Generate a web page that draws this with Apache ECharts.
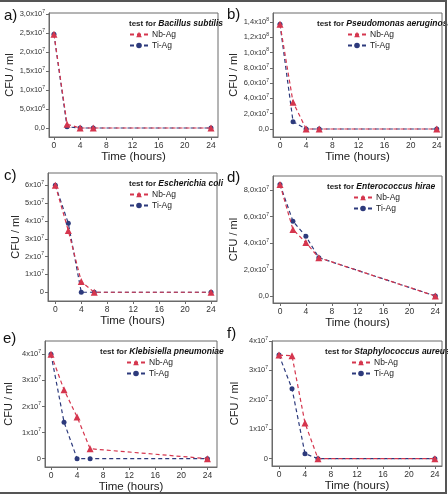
<!DOCTYPE html>
<html>
<head>
<meta charset="utf-8">
<script src="https://cdn.jsdelivr.net/npm/echarts@6/dist/echarts.min.js"></script>
<style>
  html, body { margin: 0; padding: 0; background: #fff; }
  #main { width: 448px; height: 496px; position: relative; }
  #frame {
    position: absolute; left: 0; top: 0; width: 447px; height: 494px;
    box-sizing: border-box; pointer-events: none;
    border-top: 2px solid #555; border-right: 2px solid #555; border-bottom: 2px solid #555;
  }
</style>
</head>
<body>
<div id="main"></div>
<div id="frame"></div>
<script>
// time points (hours)
const hours = [0, 2, 4, 6, 24];
const xTicks = [0, 4, 8, 12, 16, 20, 24];
const seriesNames = ['Nb-Ag', 'Ti-Ag'];

// a) Bacillus subtilis
const nbA = [2.47e7, 1.0e6, 0, 0, 0];
const tiA = [2.47e7, 3e5, 0, 0, 0];
const yTicksA = [0, 5e6, 1e7, 1.5e7, 2e7, 2.5e7, 3e7];
const yLabelsA = ['0,0', '5,0x10^6', '1,0x10^7', '1,5x10^7', '2,0x10^7', '2,5x10^7', '3,0x10^7'];

// b) Pseudomonas aeruginosa
const nbB = [1.37e8, 3.5e7, 0, 0, 0];
const tiB = [1.37e8, 0.95e7, 0, 0, 0];
const yTicksB = [0, 2e7, 4e7, 6e7, 8e7, 1e8, 1.2e8, 1.4e8];
const yLabelsB = ['0,0', '2,0x10^7', '4,0x10^7', '6,0x10^7', '8,0x10^7', '1,0x10^8', '1,2x10^8', '1,4x10^8'];

// c) Escherichia coli
const nbC = [6.0e7, 3.46e7, 0.6e7, 0, 0];
const tiC = [6.0e7, 3.87e7, 0, 0, 0];
const yTicksC = [0, 1e7, 2e7, 3e7, 4e7, 5e7, 6e7];
const yLabelsC = ['0', '1x10^7', '2x10^7', '3x10^7', '4x10^7', '5x10^7', '6x10^7'];

// d) Enterococcus hirae
const nbD = [8.44e7, 5.03e7, 4.04e7, 2.9e7, 0];
const tiD = [8.44e7, 5.66e7, 4.52e7, 2.9e7, 0];
const yTicksD = [0, 2e7, 4e7, 6e7, 8e7];
const yLabelsD = ['0,0', '2,0x10^7', '4,0x10^7', '6,0x10^7', '8,0x10^7'];

// e) Klebisiella pneumoniae
const nbE = [4.0e7, 2.64e7, 1.6e7, 0.38e7, 0];
const tiE = [4.0e7, 1.4e7, 0, 0, 0];
const yTicksE = [0, 1e7, 2e7, 3e7, 4e7];
const yLabelsE = ['0', '1x10^7', '2x10^7', '3x10^7', '4x10^7'];

// f) Staphylococcus aureus
const nbF = [3.52e7, 3.5e7, 1.21e7, 0, 0];
const tiF = [3.52e7, 2.38e7, 0.17e7, 0, 0];
const yTicksF = [0, 1e7, 2e7, 3e7, 4e7];
const yLabelsF = ['0', '1x10^7', '2x10^7', '3x10^7', '4x10^7'];

const RED = '#d5364e';
const BLUE = '#2d3a7c';
const FONT = 'Liberation Sans, Arial, sans-serif';

const panels = [
  { tag: 'a)', species: 'Bacillus subtilis', nb: nbA, ti: tiA, yt: yTicksA, yl: yLabelsA },
  { tag: 'b)', species: 'Pseudomonas aeruginosa', nb: nbB, ti: tiB, yt: yTicksB, yl: yLabelsB },
  { tag: 'c)', species: 'Escherichia coli', nb: nbC, ti: tiC, yt: yTicksC, yl: yLabelsC },
  { tag: 'd)', species: 'Enterococcus hirae', nb: nbD, ti: tiD, yt: yTicksD, yl: yLabelsD },
  { tag: 'e)', species: 'Klebisiella pneumoniae', nb: nbE, ti: tiE, yt: yTicksE, yl: yLabelsE },
  { tag: 'f)', species: 'Staphylococcus aureus', nb: nbF, ti: tiF, yt: yTicksF, yl: yLabelsF }
];

// layout of each panel (pixels / axis extents)
const layout = [
  { l: 49, t: 13, w: 169, h: 124, xr: [-0.76, 25.07], yr: [-0.237e7, 3.03e7], tagX: 4, tagY: 8, titleX: 129, legX: 129, yGap: 31 },
  { l: 273, t: 13, w: 169, h: 124, xr: [-1.07, 24.8], yr: [-1.05e7, 1.518e8], tagX: 227, tagY: 7, titleX: 317, legX: 347, yGap: 31 },
  { l: 48, t: 173, w: 169, h: 128, xr: [-1.13, 24.92], yr: [-0.49e7, 6.69e7], tagX: 4, tagY: 168, titleX: 129, legX: 129, yGap: 24 },
  { l: 273, t: 176, w: 169, h: 127, xr: [-1.08, 25.03], yr: [-0.53e7, 9.08e7], tagX: 227, tagY: 170, titleX: 327, legX: 353, yGap: 28 },
  { l: 45, t: 341, w: 172, h: 126, xr: [-0.92, 25.47], yr: [-0.32e7, 4.51e7], tagX: 3, tagY: 331, titleX: 100, legX: 126, yGap: 31 },
  { l: 272, t: 341, w: 170, h: 125, xr: [-1.08, 25.1], yr: [-0.25e7, 4.0e7], tagX: 227, tagY: 326, titleX: 325, legX: 351, yGap: 32 }
];

function richLabel(s) {
  const parts = s.split('^');
  if (parts.length === 1) return '{m|' + s + '}';
  return '{m|' + parts[0] + '}{s|' + parts[1] + '}';
}

const option = {
  backgroundColor: '#fff',
  animation: false,
  title: [],
  legend: [],
  grid: [],
  xAxis: [],
  yAxis: [],
  series: []
};

panels.forEach(function (p, i) {
  const L = layout[i];
  option.grid.push({
    left: L.l, top: L.t, width: L.w, height: L.h,
    show: true, borderColor: '#6a6a6a', borderWidth: 1, backgroundColor: 'transparent'
  });
  option.xAxis.push({
    type: 'value', gridIndex: i, min: L.xr[0], max: L.xr[1],
    name: 'Time (hours)', nameLocation: 'middle', nameGap: 13,
    nameTextStyle: { fontFamily: FONT, fontSize: 11.5, color: '#222' },
    axisLine: { show: true, onZero: false, lineStyle: { color: '#6a6a6a' } },
    axisTick: { show: true, length: 3, customValues: xTicks, lineStyle: { color: '#6a6a6a' } },
    axisLabel: { customValues: xTicks, margin: 4, fontFamily: FONT, fontSize: 8.5, color: '#333' },
    splitLine: { show: false }
  });
  option.yAxis.push({
    type: 'value', gridIndex: i, min: L.yr[0], max: L.yr[1],
    name: 'CFU / ml', nameLocation: 'middle', nameGap: L.yGap,
    nameTextStyle: { fontFamily: FONT, fontSize: 11, color: '#222' },
    axisLine: { show: true, onZero: false, lineStyle: { color: '#6a6a6a' } },
    axisTick: { show: true, length: 3, customValues: p.yt, lineStyle: { color: '#6a6a6a' } },
    axisLabel: {
      customValues: p.yt, margin: 4,
      formatter: function (v) {
        let k = 0, best = Infinity;
        p.yt.forEach(function (t, j) { const d = Math.abs(t - v); if (d < best) { best = d; k = j; } });
        return richLabel(p.yl[k]);
      },
      rich: {
        m: { fontFamily: FONT, fontSize: 7.5, color: '#333', lineHeight: 10 },
        s: { fontFamily: FONT, fontSize: 5, color: '#333', verticalAlign: 'top', lineHeight: 10 }
      }
    },
    splitLine: { show: false }
  });
  option.title.push({
    text: p.tag, left: L.tagX, top: L.tagY, padding: 0,
    textStyle: { fontFamily: FONT, fontSize: 15, fontWeight: 'normal', color: '#111' }
  });
  option.title.push({
    text: '{n|test for }{b|' + p.species + '}', left: L.titleX, top: L.t + 6, padding: 0,
    textStyle: {
      rich: {
        n: { fontFamily: FONT, fontSize: 8, color: '#222' },
        b: { fontFamily: FONT, fontSize: 8.5, fontWeight: 'bold', fontStyle: 'italic', color: '#111' }
      }
    }
  });
  option.legend.push({
    data: seriesNames, orient: 'vertical', left: L.legX, top: L.t + 17,
    itemWidth: 18, itemHeight: 7, itemGap: 2, padding: 0,
    textStyle: { fontFamily: FONT, fontSize: 8.5, color: '#222', padding: [0, 0, 0, -1] },
    selectedMode: false
  });
  const common = {
    type: 'line', xAxisIndex: i, yAxisIndex: i, smooth: false
  };
  option.series.push(Object.assign({}, common, {
    name: 'Ti-Ag', data: hours.map(function (h, j) { return [h, p.ti[j]]; }),
    symbol: 'circle', symbolSize: 5,
    itemStyle: { color: BLUE },
    lineStyle: { color: BLUE, width: 1.2, type: [4, 3] },
    z: 2
  }));
  option.series.push(Object.assign({}, common, {
    name: 'Nb-Ag', data: hours.map(function (h, j) { return [h, p.nb[j]]; }),
    symbol: 'triangle', symbolSize: 7,
    itemStyle: { color: RED },
    lineStyle: { color: RED, width: 1.2, type: [4, 3] },
    z: 3
  }));
});

const chart = echarts.init(document.getElementById('main'), null, { renderer: 'canvas' });
chart.setOption(option);
</script>
</body>
</html>
